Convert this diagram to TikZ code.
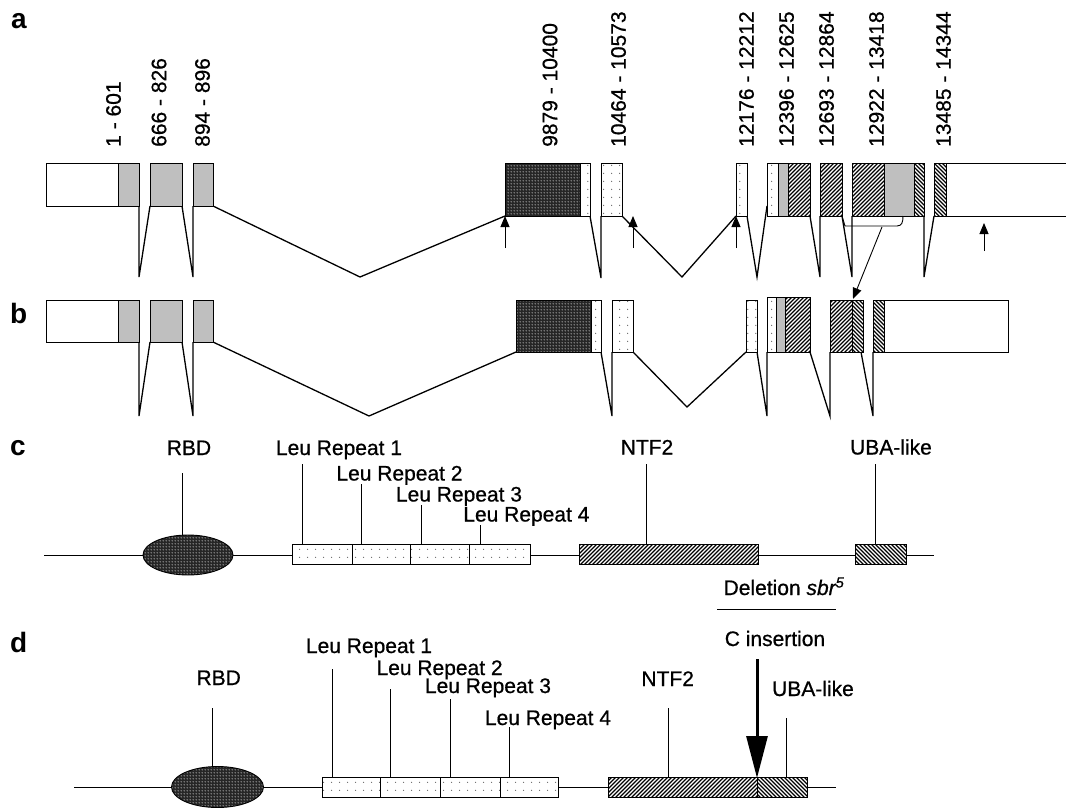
\documentclass[tikz,border=0pt]{standalone}
\usepackage{fontspec}
\setmainfont{Liberation Sans}
\newfontfamily\lblfont{Liberation Sans}[FakeBold=0.7]
\usetikzlibrary{patterns,arrows.meta}

\pgfdeclarepatternformonly{nehatch}{\pgfqpoint{-1pt}{-1pt}}{\pgfqpoint{5pt}{5pt}}{\pgfqpoint{4pt}{4pt}}{\pgfsetlinewidth{1.1pt}\pgfpathmoveto{\pgfqpoint{0pt}{0pt}}\pgfpathlineto{\pgfqpoint{4.1pt}{4.1pt}}\pgfusepath{stroke}}
\pgfdeclarepatternformonly{nwhatch}{\pgfqpoint{-1pt}{-1pt}}{\pgfqpoint{5pt}{5pt}}{\pgfqpoint{4pt}{4pt}}{\pgfsetlinewidth{1.1pt}\pgfpathmoveto{\pgfqpoint{0pt}{4pt}}\pgfpathlineto{\pgfqpoint{4.1pt}{-0.1pt}}\pgfusepath{stroke}}
\pgfdeclarepatternformonly{sparsedots}{\pgfqpoint{0pt}{0pt}}{\pgfqpoint{8pt}{8pt}}{\pgfqpoint{8pt}{8pt}}{\pgfpathcircle{\pgfqpoint{4pt}{4pt}}{0.7pt}\pgfusepath{fill}}
\pgfdeclarepatternformonly{densedots}{\pgfqpoint{0pt}{0pt}}{\pgfqpoint{3pt}{3pt}}{\pgfqpoint{3pt}{3pt}}{\pgfpathcircle{\pgfqpoint{1.5pt}{1.5pt}}{0.7pt}\pgfusepath{fill}}

\tikzset{
 bx/.style={draw=black, line width=0.9pt},
 utr/.style={bx, fill=white},
 cds/.style={bx, fill=black!25},
 darkdot/.style={bx, preaction={fill=black!85}, pattern=densedots, pattern color=white},
 lightdot/.style={bx, preaction={fill=white}, pattern=sparsedots, pattern color=black!60},
 hne/.style={bx, preaction={fill=white}, pattern=nehatch, pattern color=black},
 hnw/.style={bx, preaction={fill=white}, pattern=nwhatch, pattern color=black},
 intr/.style={line width=1.3pt, line join=miter},
 tick/.style={line width=0.9pt},
 upar/.style={line width=0.9pt, -{Triangle[length=11pt,width=9pt]}},
 lbl/.style={font=\lblfont\fontsize{21}{24}\selectfont, inner sep=0pt, anchor=base},
 vlbl/.style={font=\lblfont\fontsize{21}{24}\selectfont, inner sep=0pt, rotate=90, anchor=west},
 panel/.style={font=\fontsize{28}{30}\selectfont\bfseries, inner sep=0pt, anchor=base west},
}

\begin{document}
\begin{tikzpicture}[x=1pt,y=-1pt]
\useasboundingbox (0,0) rectangle (1066,809);

% ---------------- panel letters
\node[panel] (pa) at (11,28) {a};
\node[panel] (pb) at (10,323) {b};
\node[panel] (pc) at (10,455) {c};
\node[panel] (pd) at (10,652) {d};

% ---------------- row a: labels
\node[vlbl] (n1) at (113.5,147) {1 - 601};
\node[vlbl] (n2) at (159,147) {666 - 826};
\node[vlbl] (n3) at (202.5,147) {894 - 896};
\node[vlbl] (n4) at (550,147) {9879 - 10400};
\node[vlbl] (n5) at (618.5,147) {10464 - 10573};
\node[vlbl] (n6) at (746.5,147) {12176 - 12212};
\node[vlbl] (n7) at (786.5,147) {12396 - 12625};
\node[vlbl] (n8) at (826.5,147) {12693 - 12864};
\node[vlbl] (n9) at (876.5,147) {12922 - 13418};
\node[vlbl] (n10) at (943.5,147) {13485 - 14344};

% ---------------- row a: introns
\draw[intr] (139,206)--(139,277)--(150,206);
\draw[intr] (182,206)--(193,277)--(193,206);
\draw[intr] (213,206)--(360,277)--(505,216);
\draw[intr] (590,216)--(601,278)--(601,216);
\draw[intr] (622,216)--(682,277)--(736,216);
\draw[intr] (747,216)--(757,277)--(767,206);
\draw[intr] (810,216)--(820,277)--(820,216);
\draw[intr] (842,216)--(852,277)--(852,216);
\draw[intr] (924,216)--(924,277)--(934,216);

% ---------------- row a: exons
\draw[utr] (46,163) rectangle (118,206);
\draw[cds] (118,163) rectangle (139,206);
\draw[cds] (150,163) rectangle (182,206);
\draw[cds] (193,163) rectangle (213,206);
\draw[darkdot] (505,163) rectangle (580,216);
\draw[lightdot] (580,163) rectangle (590,216);
\draw[lightdot] (601,163) rectangle (622,216);
\draw[lightdot] (736,163) rectangle (747,216);
\draw[lightdot] (767,163) rectangle (778,216);
\draw[cds] (778,163) rectangle (788,216);
\draw[hne] (788,163) rectangle (810,216);
\draw[hne] (820,163) rectangle (842,216);
\draw[hne] (852,163) rectangle (884,216);
\draw[cds] (884,163) rectangle (914,216);
\draw[hnw] (914,163) rectangle (924,216);
\draw[hnw] (934,163) rectangle (946,216);
\fill[white] (946,163) rectangle (1066,216);
\draw[bx] (1066,163)--(946,163)--(946,216)--(1066,216);

% up arrows
\draw[upar] (505,248)--(505,216);
\draw[upar] (633,248)--(633,216);
\draw[upar] (736,248)--(736,216);
\draw[upar] (984,251)--(984,223);

% bracket and arrow to row b
\draw[tick] (842,216)--(845,226)--(897,226) .. controls (902,226) and (903,222) .. (903,216);
\coordinate (brk) at (882,227);
\coordinate (brkend) at (853,299);
\draw[tick, -{Triangle[length=11pt,width=9pt]}] (brk)--(brkend);

% ---------------- row b: introns
\draw[intr] (139,342)--(139,416)--(150,342);
\draw[intr] (182,342)--(193,416)--(193,342);
\draw[intr] (213,342)--(369,416)--(516,352);
\draw[intr] (601,352)--(612,416)--(612,352);
\draw[intr] (633,352)--(687,407)--(746,352);
\draw[intr] (757,352)--(767,416)--(767,352);
\draw[intr] (810,352)--(830,416)--(830,352);
\draw[intr] (861,352)--(873,416)--(873,352);

% ---------------- row b: exons
\draw[utr] (46,300.5) rectangle (118,342);
\draw[cds] (118,300.5) rectangle (139,342);
\draw[cds] (150,300.5) rectangle (182,342);
\draw[cds] (193,300.5) rectangle (213,342);
\draw[darkdot] (516,300.5) rectangle (591,352);
\draw[lightdot] (591,300.5) rectangle (601,352);
\draw[lightdot] (612,300.5) rectangle (633,352);
\draw[lightdot] (746,300.5) rectangle (757,352);
\draw[lightdot] (767,297.5) rectangle (776,352);
\draw[cds] (776,297.5) rectangle (785,352);
\draw[hne] (785,297.5) rectangle (810,352);
\draw[hne] (830,300.5) rectangle (852,352);
\draw[hnw] (852,300.5) rectangle (863,352);
\draw[hnw] (873,300.5) rectangle (884,352);
\draw[utr] (884,300.5) rectangle (1008,352);

% ---------------- row c
\draw[tick] (44,555)--(934,555);
\draw[darkdot] (188,555) ellipse [x radius=45pt, y radius=20pt];
\draw[lightdot] (292,544) rectangle (352,564.5);
\draw[lightdot] (352,544) rectangle (410,564.5);
\draw[lightdot] (410,544) rectangle (469,564.5);
\draw[lightdot] (469,544) rectangle (530,564.5);
\draw[hne] (579,544) rectangle (758,564.5);
\draw[hnw] (855,544) rectangle (906,564.5);

\node[lbl] (rbdc) at (189,455) {RBD};
\node[lbl] (lr1c) at (339,455) {Leu Repeat 1};
\node[lbl] (lr2c) at (399.5,480.5) {Leu Repeat 2};
\node[lbl] (lr3c) at (459,501.5) {Leu Repeat 3};
\node[lbl] (lr4c) at (526.4,521.5) {Leu Repeat 4};
\node[lbl] (ntfc) at (647,454.5) {NTF2};
\node[lbl] (ubac) at (891,454.5) {UBA-like};
\draw[tick] (182.5,473)--(182.5,535);
\draw[tick] (302,464)--(302,544);
\draw[tick] (361.5,484)--(361.5,544);
\draw[tick] (421,505)--(421,544);
\draw[tick] (480,525)--(480,544);
\draw[tick] (646,464)--(646,544);
\draw[tick] (875,464)--(875,544);

\node[lbl] (del) at (784,595) {Deletion {\itshape sbr\textsuperscript{5}}};
\draw[tick] (717,609)--(836,609);

% ---------------- row d
\draw[tick] (74,787)--(836,787);
\draw[darkdot] (217.5,787) ellipse [x radius=46pt, y radius=20.5pt];
\draw[lightdot] (322,777) rectangle (380,797);
\draw[lightdot] (380,777) rectangle (440,797);
\draw[lightdot] (440,777) rectangle (500,797);
\draw[lightdot] (500,777) rectangle (558,797);
\draw[hne] (608,777.5) rectangle (757,797.5);
\draw[hnw] (757,777.5) rectangle (807,797.5);

\node[lbl] (rbdd) at (218.7,685) {RBD};
\node[lbl] (lr1d) at (369,653) {Leu Repeat 1};
\node[lbl] (lr2d) at (439.6,675) {Leu Repeat 2};
\node[lbl] (lr3d) at (488,693) {Leu Repeat 3};
\node[lbl] (lr4d) at (548,725) {Leu Repeat 4};
\node[lbl] (ntfd) at (667.7,686) {NTF2};
\node[lbl] (ubad) at (813,696) {UBA-like};
\node[lbl] (cins) at (775,646) {C insertion};
\draw[tick] (212.8,708)--(212.8,766.5);
\draw[tick] (332.3,669)--(332.3,777);
\draw[tick] (390,689)--(390,777);
\draw[tick] (450,699)--(450,777);
\draw[tick] (509,727)--(509,777);
\draw[tick] (668,708)--(668,777.5);
\draw[tick] (786,718)--(786,777.5);
\draw[line width=3pt, -{Triangle[length=42pt,width=21pt]}] (757,659)--(757,778);
\end{tikzpicture}
\end{document}
